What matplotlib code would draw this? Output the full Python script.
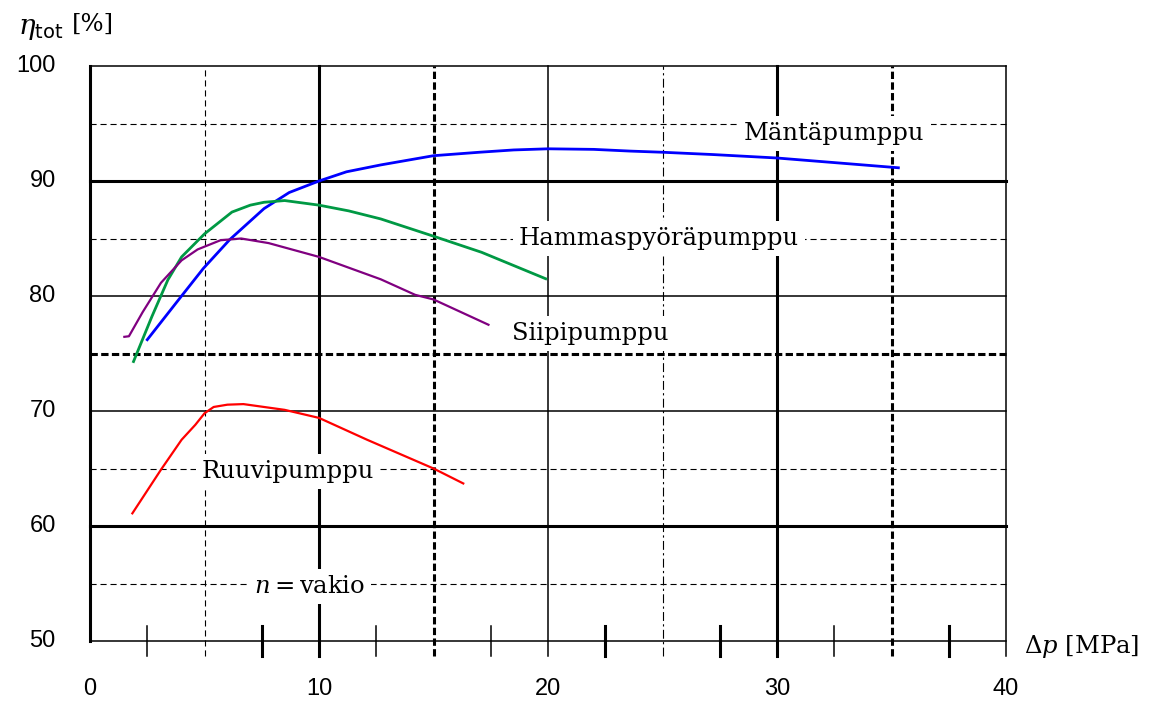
import matplotlib
matplotlib.use('Agg')
import matplotlib.pyplot as plt

plt.rcParams['mathtext.fontset'] = 'dejavuserif'

# pump efficiency curves
manta_x = [2.5, 3.8, 4.95, 6.1, 7.6, 8.7, 10.0, 11.2, 12.7, 15.0, 17.0, 18.5, 20.0,
           22.0, 23.6, 25.0, 27.2, 30.0, 32.5, 35.3]
manta_y = [76.2, 79.5, 82.4, 84.9, 87.6, 89.0, 90.0, 90.8, 91.4, 92.2, 92.5, 92.7, 92.8,
           92.75, 92.6, 92.5, 92.3, 92.0, 91.6, 91.15]

hammas_x = [1.9, 2.7, 3.4, 4.0, 5.0, 6.2, 7.0, 7.6, 8.5, 10.0, 11.3, 12.7, 15.0, 17.1, 19.9]
hammas_y = [74.3, 78.2, 81.4, 83.4, 85.4, 87.3, 87.9, 88.15, 88.3, 87.9, 87.4, 86.7, 85.2, 83.8, 81.5]

siipi_x = [1.5, 1.7, 2.3, 3.1, 4.0, 4.7, 5.7, 6.6, 7.8, 10.0, 12.7, 14.2, 15.0, 17.4]
siipi_y = [76.45, 76.5, 78.6, 81.15, 83.1, 84.05, 84.85, 85.0, 84.6, 83.4, 81.45, 80.1, 79.7, 77.5]

ruuvi_x = [1.85, 3.1, 4.0, 4.6, 5.0, 5.4, 6.0, 6.7, 8.5, 10.0, 12.1, 15.0, 16.3]
ruuvi_y = [61.1, 64.9, 67.5, 68.8, 69.8, 70.35, 70.55, 70.6, 70.1, 69.4, 67.5, 65.0, 63.7]

x_ticks = [0, 10, 20, 30, 40]
y_ticks = [50, 60, 70, 80, 90, 100]
minor_ticks = [2.5, 7.5, 12.5, 17.5, 22.5, 27.5, 32.5, 37.5]

# line styles
THICK = dict(color='k', lw=2.2, ls='-')
THIN = dict(color='k', lw=1.1, ls='-')
DASH = dict(color='k', lw=0.8, ls=(0, (5.5, 3.5)))
DOT = dict(color='k', lw=2.2, ls=(0, (2.4, 1.1)))
DASHDOT = dict(color='k', lw=0.8, ls=(0, (8, 3, 2, 3)))

h_style = {55: DASH, 60: THICK, 65: DASH, 70: THIN, 75: DOT,
           80: THIN, 85: DASH, 90: THICK, 95: DASH, 100: THIN, 50: THIN}
v_style = {5: DASH, 10: THICK, 15: DOT, 20: THIN, 25: DASHDOT,
           30: THICK, 35: DOT, 40: THIN}
tick_style = {2.5: THIN, 7.5: THICK, 12.5: THIN, 17.5: THIN,
              22.5: THICK, 27.5: THICK, 32.5: THIN, 37.5: THICK}

fig = plt.figure(figsize=(11.53, 7.04), dpi=100)
ax = fig.add_axes([90 / 1153, 1 - 641 / 704, 916 / 1153, 575 / 704])
ax.set_xlim(0, 40)
ax.set_ylim(50, 100)
ax.axis('off')

# grid
for y, st in h_style.items():
    ax.plot([0, 40], [y, y], zorder=1, clip_on=False, **st)
for x, st in v_style.items():
    ax.plot([x, x], [48.7, 100], zorder=1, clip_on=False, **st)
ax.plot([0, 0], [50, 100], zorder=2, clip_on=False, **THICK)
for x in minor_ticks:
    ax.plot([x, x], [48.7, 51.3], zorder=2, clip_on=False, **tick_style[x])

# tick labels
for x in x_ticks:
    ax.text(x, 45.8, f'{x}', ha='center', va='center', fontsize=17,
            family='Liberation Sans', clip_on=False)
for y in y_ticks:
    ax.text(-1.5, y, f'{y}', ha='right', va='center', fontsize=17,
            family='Liberation Sans', clip_on=False)

# curves
ax.plot(manta_x, manta_y, color='#0000ff', lw=2.0, zorder=5, solid_joinstyle='round')
ax.plot(hammas_x, hammas_y, color='#009944', lw=2.0, zorder=5, solid_joinstyle='round')
ax.plot(siipi_x, siipi_y, color='#800080', lw=1.6, zorder=5, solid_joinstyle='round')
ax.plot(ruuvi_x, ruuvi_y, color='#ff0000', lw=1.6, zorder=5, solid_joinstyle='round')

# curve labels (white box hides the grid behind them)
box = dict(boxstyle='square,pad=0.25', fc='white', ec='none')
lab = dict(ha='center', va='baseline', fontsize=17.5, family='DejaVu Serif',
           bbox=box, zorder=4)
ax.text(32.5, 93.6, 'Mäntäpumppu', **lab)
ax.text(24.85, 84.45, 'Hammaspyöräpumppu', **lab)
ax.text(21.85, 76.2, 'Siipipumppu', **lab)
ax.text(8.65, 64.2, 'Ruuvipumppu', **lab)
ax.text(9.6, 54.2, r'$n = \mathrm{vakio}$', **lab)

# axis titles
fig.text(18 / 1153, 1 - 28 / 704, r'$\eta_{\mathsf{tot}}$', fontsize=20,
         ha='left', va='center')
fig.text(72 / 1153, 1 - 24 / 704, '[%]', fontsize=17.5, family='DejaVu Serif',
         ha='left', va='center')
fig.text(1024 / 1153, 1 - 647 / 704, r'$\Delta p$ [MPa]', fontsize=17.5,
         family='DejaVu Serif', ha='left', va='center')

fig.savefig('out.png', dpi=100, facecolor='white')
plt.close(fig)
